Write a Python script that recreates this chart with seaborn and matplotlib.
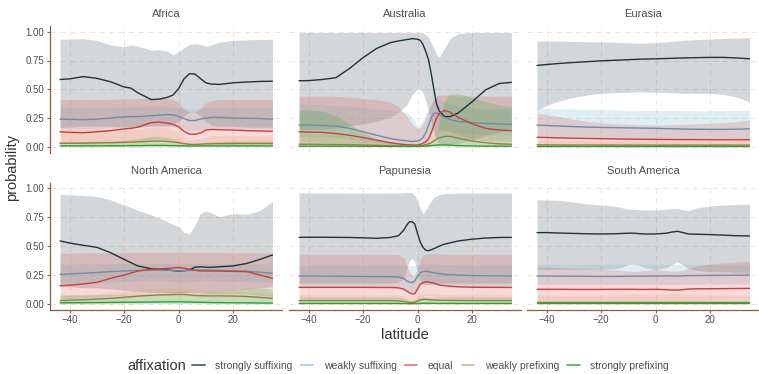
import matplotlib
matplotlib.use("Agg")
import matplotlib.pyplot as plt
import pandas as pd
import seaborn as sns
from matplotlib.lines import Line2D

# ---------------------------------------------------------------- data
# Each region: latitude grid, then for every affixation type the smoothed
# probability together with the lower / upper edge of its interval.

AFR_LAT = [-43.5, -40, -35, -30, -25, -20, -17.5, -15, -10, -7, -4, -2, 0, 2, 4, 6, 8, 10, 12, 15, 20, 25, 30, 34.5]
AFR_SS = [0.585, 0.59, 0.61, 0.595, 0.565, 0.52, 0.51, 0.47, 0.41, 0.415, 0.43, 0.45, 0.505, 0.59, 0.635, 0.632, 0.594, 0.556, 0.545, 0.542, 0.556, 0.563, 0.568, 0.57]
AFR_SS_LO = [0.17, 0.17, 0.18, 0.18, 0.18, 0.17, 0.17, 0.17, 0.18, 0.18, 0.18, 0.19, 0.22, 0.27, 0.30, 0.30, 0.27, 0.22, 0.19, 0.18, 0.18, 0.17, 0.17, 0.17]
AFR_SS_HI = [0.935, 0.937, 0.94, 0.925, 0.885, 0.87, 0.885, 0.875, 0.84, 0.845, 0.83, 0.80, 0.825, 0.86, 0.89, 0.895, 0.89, 0.875, 0.885, 0.91, 0.925, 0.93, 0.933, 0.935]
AFR_WS = [0.24, 0.238, 0.235, 0.24, 0.25, 0.26, 0.262, 0.262, 0.27, 0.275, 0.28, 0.277, 0.265, 0.245, 0.228, 0.228, 0.24, 0.25, 0.255, 0.255, 0.25, 0.248, 0.245, 0.24]
AFR_WS_LO = [0.16, 0.16, 0.158, 0.16, 0.165, 0.17, 0.172, 0.172, 0.178, 0.18, 0.18, 0.175, 0.165, 0.15, 0.14, 0.14, 0.148, 0.155, 0.16, 0.16, 0.158, 0.157, 0.156, 0.155]
AFR_WS_HI = [0.345, 0.345, 0.344, 0.344, 0.345, 0.346, 0.346, 0.347, 0.348, 0.348, 0.347, 0.345, 0.34, 0.335, 0.33, 0.33, 0.335, 0.34, 0.343, 0.344, 0.345, 0.345, 0.345, 0.345]
AFR_EQ = [0.13, 0.125, 0.122, 0.13, 0.14, 0.155, 0.16, 0.17, 0.21, 0.215, 0.205, 0.195, 0.175, 0.135, 0.11, 0.108, 0.12, 0.145, 0.15, 0.148, 0.145, 0.14, 0.137, 0.135]
AFR_EQ_LO = [0.035, 0.033, 0.032, 0.035, 0.04, 0.045, 0.048, 0.05, 0.065, 0.068, 0.062, 0.055, 0.045, 0.03, 0.02, 0.02, 0.025, 0.035, 0.038, 0.038, 0.037, 0.036, 0.035, 0.035]
AFR_EQ_HI = [0.41, 0.41, 0.408, 0.41, 0.412, 0.415, 0.416, 0.418, 0.42, 0.42, 0.418, 0.41, 0.38, 0.33, 0.30, 0.30, 0.33, 0.38, 0.40, 0.41, 0.41, 0.41, 0.41, 0.41]
AFR_WP = [0.03, 0.03, 0.031, 0.033, 0.035, 0.038, 0.04, 0.042, 0.048, 0.05, 0.046, 0.042, 0.035, 0.027, 0.021, 0.02, 0.022, 0.025, 0.026, 0.027, 0.028, 0.028, 0.028, 0.028]
AFR_WP_LO = [0.004, 0.004, 0.004, 0.004, 0.005, 0.005, 0.005, 0.006, 0.007, 0.007, 0.006, 0.006, 0.005, 0.004, 0.003, 0.003, 0.003, 0.004, 0.004, 0.004, 0.004, 0.004, 0.004, 0.004]
AFR_WP_HI = [0.15, 0.155, 0.158, 0.155, 0.148, 0.142, 0.145, 0.15, 0.17, 0.172, 0.16, 0.145, 0.12, 0.085, 0.06, 0.06, 0.07, 0.085, 0.095, 0.1, 0.098, 0.095, 0.092, 0.09]
AFR_SP = [0.008, 0.008, 0.008, 0.008, 0.009, 0.009, 0.01, 0.01, 0.012, 0.012, 0.011, 0.01, 0.009, 0.008, 0.007, 0.007, 0.007, 0.008, 0.008, 0.008, 0.008, 0.008, 0.008, 0.008]
AFR_SP_LO = [0.001, 0.001, 0.001, 0.001, 0.001, 0.001, 0.001, 0.001, 0.002, 0.002, 0.002, 0.001, 0.001, 0.001, 0.001, 0.001, 0.001, 0.001, 0.001, 0.001, 0.001, 0.001, 0.001, 0.001]
AFR_SP_HI = [0.045, 0.045, 0.046, 0.048, 0.05, 0.055, 0.06, 0.07, 0.09, 0.09, 0.08, 0.065, 0.05, 0.035, 0.028, 0.028, 0.032, 0.038, 0.042, 0.045, 0.048, 0.05, 0.05, 0.05]

AUS_LAT = [-43.5, -40, -35, -30, -25, -20, -15, -10, -7, -4, -2, 0, 1, 2, 3, 4, 5, 6, 7, 8, 10, 12, 15, 20, 25, 30, 34.5]
AUS_SS = [0.574, 0.575, 0.585, 0.60, 0.68, 0.775, 0.855, 0.905, 0.92, 0.932, 0.94, 0.935, 0.925, 0.89, 0.83, 0.76, 0.64, 0.50, 0.37, 0.31, 0.262, 0.262, 0.295, 0.39, 0.495, 0.55, 0.56]
AUS_SS_LO = [0.15, 0.15, 0.15, 0.16, 0.18, 0.20, 0.22, 0.26, 0.30, 0.36, 0.45, 0.505, 0.50, 0.47, 0.40, 0.32, 0.22, 0.12, 0.06, 0.03, 0.02, 0.02, 0.03, 0.06, 0.10, 0.13, 0.14]
AUS_SS_HI = [0.993, 0.993, 0.993, 0.993, 0.993, 0.993, 0.993, 0.993, 0.993, 0.993, 0.993, 0.993, 0.992, 0.99, 0.975, 0.95, 0.91, 0.86, 0.80, 0.78, 0.86, 0.94, 0.985, 0.993, 0.993, 0.993, 0.993]
AUS_WS = [0.19, 0.19, 0.185, 0.18, 0.16, 0.13, 0.10, 0.072, 0.06, 0.052, 0.045, 0.05, 0.06, 0.08, 0.12, 0.18, 0.25, 0.29, 0.295, 0.28, 0.255, 0.235, 0.22, 0.21, 0.203, 0.198, 0.195]
AUS_WS_LO = [0.09, 0.09, 0.085, 0.08, 0.065, 0.05, 0.035, 0.02, 0.015, 0.01, 0.01, 0.01, 0.012, 0.02, 0.035, 0.06, 0.1, 0.14, 0.16, 0.16, 0.15, 0.135, 0.12, 0.11, 0.105, 0.1, 0.1]
AUS_WS_HI = [0.37, 0.37, 0.37, 0.36, 0.35, 0.34, 0.33, 0.32, 0.31, 0.30, 0.26, 0.18, 0.20, 0.24, 0.29, 0.33, 0.37, 0.40, 0.41, 0.41, 0.39, 0.37, 0.35, 0.34, 0.33, 0.33, 0.33]
AUS_EQ = [0.13, 0.128, 0.125, 0.115, 0.10, 0.08, 0.058, 0.035, 0.025, 0.017, 0.015, 0.015, 0.02, 0.03, 0.045, 0.065, 0.12, 0.19, 0.25, 0.29, 0.315, 0.30, 0.255, 0.20, 0.16, 0.145, 0.14]
AUS_EQ_LO = [0.04, 0.04, 0.038, 0.034, 0.028, 0.02, 0.013, 0.007, 0.005, 0.003, 0.003, 0.003, 0.004, 0.006, 0.01, 0.018, 0.04, 0.08, 0.11, 0.13, 0.14, 0.13, 0.1, 0.07, 0.055, 0.05, 0.048]
AUS_EQ_HI = [0.44, 0.44, 0.44, 0.44, 0.43, 0.42, 0.41, 0.39, 0.35, 0.27, 0.20, 0.16, 0.17, 0.20, 0.25, 0.31, 0.37, 0.42, 0.44, 0.45, 0.45, 0.45, 0.44, 0.44, 0.44, 0.44, 0.44]
AUS_WP = [0.022, 0.022, 0.021, 0.02, 0.018, 0.015, 0.012, 0.008, 0.006, 0.005, 0.005, 0.005, 0.008, 0.012, 0.018, 0.025, 0.035, 0.05, 0.065, 0.078, 0.09, 0.09, 0.075, 0.05, 0.035, 0.025, 0.022]
AUS_WP_LO = [0.003, 0.003, 0.003, 0.003, 0.002, 0.002, 0.002, 0.001, 0.001, 0.001, 0.001, 0.001, 0.001, 0.002, 0.003, 0.005, 0.008, 0.012, 0.018, 0.022, 0.026, 0.026, 0.02, 0.012, 0.007, 0.004, 0.003]
AUS_WP_HI = [0.12, 0.115, 0.11, 0.1, 0.085, 0.07, 0.055, 0.04, 0.03, 0.022, 0.02, 0.02, 0.025, 0.035, 0.05, 0.07, 0.1, 0.13, 0.16, 0.18, 0.2, 0.2, 0.18, 0.14, 0.115, 0.1, 0.1]
AUS_SP = [0.005, 0.005, 0.005, 0.005, 0.005, 0.004, 0.004, 0.003, 0.003, 0.003, 0.003, 0.003, 0.004, 0.005, 0.006, 0.008, 0.01, 0.012, 0.014, 0.016, 0.016, 0.014, 0.01, 0.007, 0.006, 0.005, 0.005]
AUS_SP_LO = [0.001, 0.001, 0.001, 0.001, 0.001, 0.001, 0.001, 0.001, 0.001, 0.001, 0.001, 0.001, 0.001, 0.001, 0.001, 0.001, 0.002, 0.002, 0.002, 0.002, 0.002, 0.002, 0.002, 0.001, 0.001, 0.001, 0.001]
AUS_SP_HI = [0.32, 0.32, 0.31, 0.27, 0.2, 0.12, 0.07, 0.035, 0.025, 0.015, 0.012, 0.01, 0.012, 0.015, 0.02, 0.03, 0.05, 0.08, 0.13, 0.22, 0.40, 0.46, 0.46, 0.43, 0.39, 0.36, 0.35]

EUR_LAT = [-43.5, -40, -35, -30, -25, -20, -15, -10, -5, 0, 5, 10, 15, 20, 25, 30, 34.5]
EUR_SS = [0.707, 0.715, 0.725, 0.733, 0.74, 0.747, 0.752, 0.757, 0.762, 0.765, 0.768, 0.772, 0.775, 0.777, 0.777, 0.772, 0.765]
EUR_SS_LO = [0.32, 0.36, 0.40, 0.43, 0.45, 0.465, 0.47, 0.475, 0.478, 0.475, 0.47, 0.465, 0.465, 0.465, 0.455, 0.43, 0.39]
EUR_SS_HI = [0.92, 0.92, 0.918, 0.915, 0.913, 0.912, 0.908, 0.903, 0.90, 0.905, 0.915, 0.925, 0.932, 0.937, 0.942, 0.946, 0.948]
EUR_WS = [0.188, 0.185, 0.18, 0.175, 0.171, 0.168, 0.166, 0.164, 0.162, 0.16, 0.157, 0.154, 0.152, 0.151, 0.151, 0.153, 0.156]
EUR_WS_LO = [0.085, 0.083, 0.08, 0.078, 0.076, 0.075, 0.074, 0.073, 0.072, 0.071, 0.07, 0.069, 0.068, 0.068, 0.068, 0.069, 0.07]
EUR_WS_HI = [0.335, 0.333, 0.33, 0.328, 0.325, 0.322, 0.32, 0.318, 0.316, 0.315, 0.315, 0.314, 0.313, 0.313, 0.314, 0.315, 0.315]
EUR_EQ = [0.082, 0.08, 0.077, 0.074, 0.072, 0.07, 0.068, 0.066, 0.065, 0.064, 0.063, 0.062, 0.062, 0.061, 0.061, 0.061, 0.061]
EUR_EQ_LO = [0.014, 0.013, 0.013, 0.012, 0.012, 0.012, 0.011, 0.011, 0.011, 0.011, 0.011, 0.011, 0.011, 0.011, 0.011, 0.011, 0.011]
EUR_EQ_HI = [0.29, 0.28, 0.26, 0.24, 0.22, 0.21, 0.20, 0.195, 0.19, 0.19, 0.19, 0.195, 0.20, 0.205, 0.21, 0.22, 0.23]
EUR_WP = [0.016, 0.016, 0.015, 0.015, 0.015, 0.015, 0.015, 0.014, 0.014, 0.014, 0.014, 0.014, 0.014, 0.014, 0.014, 0.014, 0.014]
EUR_WP_LO = [0.002, 0.002, 0.002, 0.002, 0.002, 0.002, 0.002, 0.002, 0.002, 0.002, 0.002, 0.002, 0.002, 0.002, 0.002, 0.002, 0.002]
EUR_WP_HI = [0.06, 0.058, 0.056, 0.055, 0.054, 0.053, 0.052, 0.052, 0.051, 0.051, 0.051, 0.051, 0.052, 0.052, 0.053, 0.054, 0.055]
EUR_SP = [0.005, 0.005, 0.005, 0.005, 0.005, 0.005, 0.005, 0.005, 0.005, 0.005, 0.005, 0.005, 0.005, 0.005, 0.005, 0.005, 0.005]
EUR_SP_LO = [0.001, 0.001, 0.001, 0.001, 0.001, 0.001, 0.001, 0.001, 0.001, 0.001, 0.001, 0.001, 0.001, 0.001, 0.001, 0.001, 0.001]
EUR_SP_HI = [0.02, 0.02, 0.019, 0.019, 0.018, 0.018, 0.018, 0.018, 0.018, 0.018, 0.018, 0.018, 0.018, 0.018, 0.019, 0.019, 0.02]

NAM_LAT = [-43.5, -40, -35, -30, -25, -20, -15, -10, -7, -4, -2, 0, 2, 4, 6, 8, 10, 12, 15, 20, 25, 30, 34.5]
NAM_SS = [0.545, 0.527, 0.507, 0.49, 0.444, 0.386, 0.329, 0.305, 0.30, 0.295, 0.288, 0.285, 0.287, 0.294, 0.318, 0.322, 0.318, 0.317, 0.322, 0.329, 0.35, 0.386, 0.424]
NAM_SS_LO = [0.15, 0.15, 0.14, 0.14, 0.13, 0.12, 0.11, 0.10, 0.10, 0.10, 0.10, 0.10, 0.10, 0.10, 0.10, 0.10, 0.10, 0.10, 0.11, 0.12, 0.13, 0.14, 0.15]
NAM_SS_HI = [0.948, 0.945, 0.937, 0.93, 0.90, 0.856, 0.81, 0.77, 0.745, 0.71, 0.69, 0.67, 0.62, 0.605, 0.68, 0.78, 0.805, 0.79, 0.755, 0.782, 0.775, 0.81, 0.885]
NAM_WS = [0.256, 0.26, 0.266, 0.272, 0.28, 0.285, 0.29, 0.294, 0.294, 0.292, 0.29, 0.288, 0.288, 0.29, 0.292, 0.294, 0.294, 0.293, 0.29, 0.287, 0.282, 0.275, 0.265]
NAM_WS_LO = [0.18, 0.18, 0.182, 0.185, 0.19, 0.195, 0.2, 0.205, 0.205, 0.2, 0.195, 0.19, 0.19, 0.195, 0.2, 0.205, 0.205, 0.2, 0.2, 0.198, 0.195, 0.19, 0.185]
NAM_WS_HI = [0.345, 0.345, 0.346, 0.347, 0.348, 0.349, 0.35, 0.35, 0.35, 0.35, 0.35, 0.35, 0.35, 0.35, 0.35, 0.35, 0.35, 0.35, 0.349, 0.348, 0.347, 0.346, 0.345]
NAM_EQ = [0.158, 0.163, 0.173, 0.187, 0.222, 0.25, 0.285, 0.30, 0.304, 0.308, 0.312, 0.315, 0.31, 0.30, 0.292, 0.286, 0.285, 0.285, 0.285, 0.282, 0.28, 0.25, 0.222]
NAM_EQ_LO = [0.05, 0.052, 0.055, 0.06, 0.07, 0.08, 0.09, 0.1, 0.1, 0.1, 0.1, 0.1, 0.1, 0.1, 0.095, 0.092, 0.09, 0.09, 0.09, 0.09, 0.088, 0.075, 0.065]
NAM_EQ_HI = [0.44, 0.44, 0.441, 0.442, 0.443, 0.444, 0.445, 0.445, 0.445, 0.445, 0.445, 0.445, 0.445, 0.445, 0.445, 0.445, 0.445, 0.445, 0.444, 0.443, 0.442, 0.441, 0.44]
NAM_WP = [0.03, 0.033, 0.037, 0.042, 0.049, 0.058, 0.068, 0.075, 0.078, 0.08, 0.082, 0.083, 0.082, 0.078, 0.074, 0.072, 0.071, 0.07, 0.07, 0.069, 0.065, 0.057, 0.049]
NAM_WP_LO = [0.005, 0.005, 0.006, 0.007, 0.009, 0.012, 0.015, 0.018, 0.019, 0.02, 0.02, 0.02, 0.02, 0.019, 0.018, 0.017, 0.017, 0.017, 0.017, 0.016, 0.014, 0.011, 0.009]
NAM_WP_HI = [0.08, 0.08, 0.085, 0.09, 0.10, 0.11, 0.12, 0.13, 0.13, 0.135, 0.14, 0.14, 0.135, 0.13, 0.12, 0.115, 0.115, 0.115, 0.11, 0.11, 0.10, 0.095, 0.09]
NAM_SP = [0.01, 0.011, 0.012, 0.013, 0.014, 0.015, 0.016, 0.017, 0.018, 0.018, 0.019, 0.019, 0.018, 0.017, 0.016, 0.015, 0.014, 0.013, 0.012, 0.011, 0.01, 0.009, 0.008]
NAM_SP_LO = [0.001, 0.001, 0.001, 0.001, 0.002, 0.002, 0.002, 0.003, 0.003, 0.003, 0.003, 0.003, 0.003, 0.003, 0.003, 0.002, 0.002, 0.002, 0.002, 0.002, 0.001, 0.001, 0.001]
NAM_SP_HI = [0.075, 0.075, 0.078, 0.08, 0.082, 0.085, 0.09, 0.095, 0.10, 0.105, 0.108, 0.11, 0.108, 0.10, 0.095, 0.095, 0.10, 0.105, 0.11, 0.12, 0.135, 0.14, 0.13]

PAP_LAT = [-43.5, -40, -35, -30, -25, -20, -15, -10, -7, -5, -4, -3, -2, -1, 0, 1, 2, 3, 4, 6, 8, 10, 15, 20, 25, 30, 34.5]
PAP_SS = [0.576, 0.577, 0.577, 0.576, 0.575, 0.572, 0.568, 0.575, 0.59, 0.64, 0.68, 0.71, 0.712, 0.69, 0.61, 0.535, 0.49, 0.465, 0.46, 0.478, 0.50, 0.518, 0.545, 0.56, 0.57, 0.575, 0.576]
PAP_SS_LO = [0.18, 0.18, 0.18, 0.18, 0.18, 0.18, 0.18, 0.18, 0.19, 0.22, 0.30, 0.37, 0.395, 0.36, 0.28, 0.20, 0.17, 0.17, 0.17, 0.175, 0.18, 0.18, 0.18, 0.18, 0.18, 0.18, 0.18]
PAP_SS_HI = [0.96, 0.96, 0.958, 0.958, 0.957, 0.957, 0.957, 0.958, 0.96, 0.962, 0.965, 0.965, 0.96, 0.94, 0.89, 0.83, 0.78, 0.81, 0.855, 0.92, 0.945, 0.955, 0.958, 0.959, 0.96, 0.96, 0.96]
PAP_WS = [0.242, 0.242, 0.241, 0.24, 0.239, 0.238, 0.237, 0.236, 0.233, 0.22, 0.20, 0.188, 0.185, 0.20, 0.24, 0.27, 0.28, 0.282, 0.28, 0.27, 0.263, 0.256, 0.25, 0.246, 0.244, 0.243, 0.242]
PAP_WS_LO = [0.15, 0.15, 0.15, 0.15, 0.15, 0.15, 0.15, 0.15, 0.148, 0.135, 0.12, 0.105, 0.10, 0.11, 0.14, 0.17, 0.18, 0.18, 0.178, 0.17, 0.165, 0.16, 0.155, 0.152, 0.151, 0.15, 0.15]
PAP_WS_HI = [0.34, 0.34, 0.34, 0.34, 0.34, 0.34, 0.34, 0.34, 0.338, 0.335, 0.332, 0.33, 0.33, 0.332, 0.336, 0.34, 0.345, 0.345, 0.345, 0.343, 0.342, 0.341, 0.34, 0.34, 0.34, 0.34, 0.34]
PAP_EQ = [0.144, 0.144, 0.144, 0.144, 0.144, 0.144, 0.143, 0.143, 0.14, 0.128, 0.112, 0.098, 0.087, 0.09, 0.13, 0.17, 0.185, 0.192, 0.19, 0.18, 0.165, 0.158, 0.148, 0.145, 0.144, 0.144, 0.143]
PAP_EQ_LO = [0.05, 0.05, 0.05, 0.05, 0.05, 0.05, 0.05, 0.05, 0.048, 0.04, 0.032, 0.025, 0.02, 0.022, 0.035, 0.055, 0.065, 0.07, 0.07, 0.065, 0.058, 0.055, 0.052, 0.05, 0.05, 0.05, 0.05]
PAP_EQ_HI = [0.43, 0.43, 0.43, 0.43, 0.43, 0.43, 0.43, 0.43, 0.425, 0.40, 0.34, 0.28, 0.25, 0.26, 0.30, 0.38, 0.42, 0.43, 0.435, 0.435, 0.433, 0.432, 0.43, 0.43, 0.43, 0.43, 0.43]
PAP_WP = [0.03, 0.03, 0.03, 0.03, 0.03, 0.03, 0.03, 0.03, 0.028, 0.022, 0.017, 0.013, 0.012, 0.015, 0.025, 0.035, 0.04, 0.04, 0.038, 0.035, 0.033, 0.032, 0.031, 0.03, 0.03, 0.03, 0.03]
PAP_WP_LO = [0.006, 0.006, 0.006, 0.006, 0.006, 0.006, 0.006, 0.006, 0.005, 0.004, 0.003, 0.002, 0.002, 0.003, 0.005, 0.007, 0.008, 0.008, 0.008, 0.007, 0.007, 0.006, 0.006, 0.006, 0.006, 0.006, 0.006]
PAP_WP_HI = [0.08, 0.08, 0.08, 0.08, 0.08, 0.08, 0.08, 0.08, 0.078, 0.07, 0.06, 0.05, 0.048, 0.055, 0.07, 0.085, 0.09, 0.09, 0.088, 0.085, 0.082, 0.081, 0.08, 0.08, 0.08, 0.08, 0.08]
PAP_SP = [0.005, 0.005, 0.005, 0.005, 0.005, 0.005, 0.005, 0.005, 0.005, 0.004, 0.004, 0.003, 0.003, 0.003, 0.004, 0.005, 0.006, 0.006, 0.006, 0.006, 0.005, 0.005, 0.005, 0.005, 0.005, 0.005, 0.005]
PAP_SP_LO = [0.001, 0.001, 0.001, 0.001, 0.001, 0.001, 0.001, 0.001, 0.001, 0.001, 0.001, 0.001, 0.001, 0.001, 0.001, 0.001, 0.001, 0.001, 0.001, 0.001, 0.001, 0.001, 0.001, 0.001, 0.001, 0.001, 0.001]
PAP_SP_HI = [0.06, 0.06, 0.06, 0.06, 0.06, 0.06, 0.06, 0.06, 0.058, 0.05, 0.04, 0.03, 0.028, 0.032, 0.045, 0.06, 0.065, 0.065, 0.064, 0.062, 0.061, 0.06, 0.06, 0.06, 0.06, 0.06, 0.06]

SAM_LAT = [-43.5, -40, -35, -30, -25, -20, -15, -12, -10, -8, -6, -4, 0, 4, 6, 8, 10, 12, 15, 20, 25, 30, 34.5]
SAM_SS = [0.617, 0.617, 0.613, 0.61, 0.607, 0.605, 0.607, 0.61, 0.612, 0.612, 0.608, 0.605, 0.605, 0.612, 0.622, 0.628, 0.618, 0.605, 0.603, 0.60, 0.595, 0.59, 0.588]
SAM_SS_LO = [0.30, 0.30, 0.30, 0.30, 0.30, 0.30, 0.305, 0.32, 0.34, 0.345, 0.335, 0.315, 0.30, 0.315, 0.34, 0.365, 0.34, 0.31, 0.29, 0.28, 0.28, 0.27, 0.27]
SAM_SS_HI = [0.90, 0.90, 0.895, 0.88, 0.865, 0.856, 0.845, 0.83, 0.82, 0.818, 0.815, 0.813, 0.813, 0.82, 0.825, 0.827, 0.815, 0.805, 0.83, 0.847, 0.855, 0.86, 0.865]
SAM_WS = [0.242, 0.242, 0.241, 0.24, 0.239, 0.238, 0.238, 0.239, 0.24, 0.241, 0.241, 0.241, 0.242, 0.243, 0.243, 0.241, 0.243, 0.245, 0.246, 0.247, 0.248, 0.249, 0.25]
SAM_WS_LO = [0.17, 0.17, 0.17, 0.17, 0.17, 0.17, 0.17, 0.17, 0.17, 0.17, 0.17, 0.17, 0.17, 0.17, 0.17, 0.17, 0.17, 0.172, 0.172, 0.173, 0.174, 0.175, 0.175]
SAM_WS_HI = [0.343, 0.343, 0.343, 0.343, 0.343, 0.343, 0.343, 0.343, 0.343, 0.343, 0.343, 0.343, 0.343, 0.343, 0.343, 0.343, 0.343, 0.343, 0.343, 0.343, 0.343, 0.343, 0.343]
SAM_EQ = [0.127, 0.127, 0.127, 0.126, 0.126, 0.126, 0.127, 0.127, 0.127, 0.127, 0.126, 0.126, 0.127, 0.124, 0.121, 0.12, 0.124, 0.129, 0.131, 0.132, 0.133, 0.134, 0.135]
SAM_EQ_LO = [0.03, 0.03, 0.03, 0.03, 0.03, 0.03, 0.03, 0.03, 0.03, 0.03, 0.03, 0.03, 0.03, 0.03, 0.029, 0.028, 0.029, 0.03, 0.031, 0.032, 0.032, 0.033, 0.033]
SAM_EQ_HI = [0.32, 0.318, 0.315, 0.31, 0.305, 0.30, 0.295, 0.29, 0.285, 0.283, 0.285, 0.29, 0.30, 0.29, 0.285, 0.283, 0.29, 0.31, 0.33, 0.345, 0.355, 0.365, 0.37]
SAM_WP = [0.02, 0.02, 0.02, 0.02, 0.02, 0.02, 0.02, 0.02, 0.02, 0.02, 0.02, 0.02, 0.02, 0.02, 0.02, 0.02, 0.02, 0.02, 0.02, 0.02, 0.02, 0.02, 0.02]
SAM_WP_LO = [0.003, 0.003, 0.003, 0.003, 0.003, 0.003, 0.003, 0.003, 0.003, 0.003, 0.003, 0.003, 0.003, 0.003, 0.003, 0.003, 0.003, 0.003, 0.003, 0.003, 0.003, 0.003, 0.003]
SAM_WP_HI = [0.075, 0.075, 0.075, 0.075, 0.076, 0.077, 0.078, 0.08, 0.085, 0.088, 0.086, 0.082, 0.08, 0.084, 0.09, 0.092, 0.086, 0.08, 0.078, 0.076, 0.075, 0.075, 0.075]
SAM_SP = [0.005, 0.005, 0.005, 0.005, 0.005, 0.005, 0.005, 0.005, 0.005, 0.005, 0.005, 0.005, 0.005, 0.005, 0.005, 0.005, 0.005, 0.005, 0.005, 0.005, 0.005, 0.005, 0.005]
SAM_SP_LO = [0.001, 0.001, 0.001, 0.001, 0.001, 0.001, 0.001, 0.001, 0.001, 0.001, 0.001, 0.001, 0.001, 0.001, 0.001, 0.001, 0.001, 0.001, 0.001, 0.001, 0.001, 0.001, 0.001]
SAM_SP_HI = [0.03, 0.03, 0.03, 0.03, 0.03, 0.03, 0.03, 0.03, 0.03, 0.03, 0.03, 0.03, 0.03, 0.03, 0.03, 0.03, 0.03, 0.03, 0.03, 0.03, 0.03, 0.03, 0.03]

REGIONS = ["Africa", "Australia", "Eurasia", "North America", "Papunesia", "South America"]
AFFIXATION = ["strongly suffixing", "weakly suffixing", "equal", "weakly prefixing", "strongly prefixing"]
Y_TICKS = [0.0, 0.25, 0.5, 0.75, 1.0]
Y_TICK_LABELS = ["0.00", "0.25", "0.50", "0.75", "1.00"]
X_TICKS = [-40, -20, 0, 20]

REGION_DATA = {
    "Africa": (AFR_LAT, [(AFR_SS, AFR_SS_LO, AFR_SS_HI), (AFR_WS, AFR_WS_LO, AFR_WS_HI),
                         (AFR_EQ, AFR_EQ_LO, AFR_EQ_HI), (AFR_WP, AFR_WP_LO, AFR_WP_HI),
                         (AFR_SP, AFR_SP_LO, AFR_SP_HI)]),
    "Australia": (AUS_LAT, [(AUS_SS, AUS_SS_LO, AUS_SS_HI), (AUS_WS, AUS_WS_LO, AUS_WS_HI),
                            (AUS_EQ, AUS_EQ_LO, AUS_EQ_HI), (AUS_WP, AUS_WP_LO, AUS_WP_HI),
                            (AUS_SP, AUS_SP_LO, AUS_SP_HI)]),
    "Eurasia": (EUR_LAT, [(EUR_SS, EUR_SS_LO, EUR_SS_HI), (EUR_WS, EUR_WS_LO, EUR_WS_HI),
                          (EUR_EQ, EUR_EQ_LO, EUR_EQ_HI), (EUR_WP, EUR_WP_LO, EUR_WP_HI),
                          (EUR_SP, EUR_SP_LO, EUR_SP_HI)]),
    "North America": (NAM_LAT, [(NAM_SS, NAM_SS_LO, NAM_SS_HI), (NAM_WS, NAM_WS_LO, NAM_WS_HI),
                                (NAM_EQ, NAM_EQ_LO, NAM_EQ_HI), (NAM_WP, NAM_WP_LO, NAM_WP_HI),
                                (NAM_SP, NAM_SP_LO, NAM_SP_HI)]),
    "Papunesia": (PAP_LAT, [(PAP_SS, PAP_SS_LO, PAP_SS_HI), (PAP_WS, PAP_WS_LO, PAP_WS_HI),
                            (PAP_EQ, PAP_EQ_LO, PAP_EQ_HI), (PAP_WP, PAP_WP_LO, PAP_WP_HI),
                            (PAP_SP, PAP_SP_LO, PAP_SP_HI)]),
    "South America": (SAM_LAT, [(SAM_SS, SAM_SS_LO, SAM_SS_HI), (SAM_WS, SAM_WS_LO, SAM_WS_HI),
                                (SAM_EQ, SAM_EQ_LO, SAM_EQ_HI), (SAM_WP, SAM_WP_LO, SAM_WP_HI),
                                (SAM_SP, SAM_SP_LO, SAM_SP_HI)]),
}

rows = []
for region, (lat, series) in REGION_DATA.items():
    for kind, (mid, lo, hi) in zip(AFFIXATION, series):
        for x, m, l, h in zip(lat, mid, lo, hi):
            rows.append({"region": region, "affixation": kind, "latitude": x,
                         "probability": m, "lower": l, "upper": h})
df = pd.DataFrame(rows)

# ---------------------------------------------------------------- styling
sns.set_theme(style="white")
plt.rcParams["font.family"] = ["Liberation Sans", "DejaVu Sans"]

LINE_COLORS = {"strongly suffixing": "#1f3339", "weakly suffixing": "#6e8ea6",
               "equal": "#c8403a", "weakly prefixing": "#9c7a48",
               "strongly prefixing": "#2e9e3e"}
KEY_COLORS = {"strongly suffixing": "#5f7277", "weakly suffixing": "#a8d6e0",
              "equal": "#ef8585", "weakly prefixing": "#dcc09c",
              "strongly prefixing": "#60c070"}
RIBBON = {"strongly suffixing": ("#4a5a62", 0.24), "weakly suffixing": ("#7fbcd0", 0.25),
          "equal": ("#d9534f", 0.22), "weakly prefixing": ("#e8a070", 0.2),
          "strongly prefixing": ("#4caf50", 0.28)}
AXIS_COLOR = "#8b6040"
GRID_COLOR = "#f3e5d8"
TEXT_COLOR = "#4d4d4d"

W, H = 759, 374
fig = plt.figure(figsize=(W / 100, H / 100), dpi=100)

col_left = [50, 289, 527]
panel_w = 232
row_spans = [(26, 152.5), (182.5, 309.8)]

for i, region in enumerate(REGIONS):
    r, c = divmod(i, 3)
    top, bottom = row_spans[r]
    ax = fig.add_axes([col_left[c] / W, 1 - bottom / H, panel_w / W, (bottom - top) / H])
    sub = df[df["region"] == region]

    for kind in AFFIXATION:
        part = sub[sub["affixation"] == kind]
        color, alpha = RIBBON[kind]
        ax.fill_between(part["latitude"], part["lower"], part["upper"],
                        color=color, alpha=alpha, linewidth=0, zorder=1)

    sns.lineplot(data=sub, x="latitude", y="probability", hue="affixation",
                 hue_order=AFFIXATION, palette=LINE_COLORS, linewidth=1.0,
                 errorbar=None, legend=False, ax=ax, zorder=3)

    ax.set_xlim(-47.2, 38.0)
    ax.set_ylim(-0.05, 1.05)
    ax.set_xticks(X_TICKS)
    ax.set_yticks(Y_TICKS)
    ax.set_yticklabels(Y_TICK_LABELS)
    ax.set_xlabel("")
    ax.set_ylabel("")
    ax.grid(True, color=GRID_COLOR, linestyle=(0, (6, 4)), linewidth=0.7)
    ax.set_axisbelow(True)

    for side in ["top", "right", "left", "bottom"]:
        ax.spines[side].set_visible(False)
    if c == 0:
        ax.spines["left"].set_visible(True)
        ax.spines["left"].set_color(AXIS_COLOR)
        ax.spines["left"].set_linewidth(0.9)
    if r == 1:
        ax.spines["bottom"].set_visible(True)
        ax.spines["bottom"].set_color(AXIS_COLOR)
        ax.spines["bottom"].set_linewidth(0.9)

    ax.tick_params(axis="y", left=(c == 0), labelleft=(c == 0), length=2.5, width=0.8,
                   color=AXIS_COLOR, labelsize=7, labelcolor=TEXT_COLOR, pad=1.5)
    ax.tick_params(axis="x", bottom=(r == 1), labelbottom=(r == 1), length=2.5, width=0.8,
                   color=AXIS_COLOR, labelsize=7, labelcolor=TEXT_COLOR, pad=1.5)

    ax.annotate(region, xy=(0.5, 1.0), xycoords="axes fraction", xytext=(0, 8.5),
                textcoords="offset points", ha="center", va="center",
                fontsize=8, color=TEXT_COLOR)

fig.text(405 / W, 1 - 335 / H, "latitude", ha="center", va="center",
         fontsize=10.5, color="#333333")
fig.text(12 / W, 1 - 167 / H, "probability", ha="center", va="center",
         rotation=90, fontsize=10.5, color="#333333")

handles = [Line2D([0], [0], color=KEY_COLORS[k], linewidth=1.4) for k in AFFIXATION]
fig.legend(handles, AFFIXATION, ncol=5, loc="center left",
           bbox_to_anchor=(192 / W, 1 - 366 / H), frameon=False, fontsize=7.5,
           handlelength=1.2, handletextpad=1.0, columnspacing=0.8,
           borderpad=0, borderaxespad=0, labelcolor=TEXT_COLOR)
fig.text(186 / W, 1 - 366 / H, "affixation", ha="right", va="center",
         fontsize=10.5, color="#333333")

fig.savefig("out.png", dpi=100)
